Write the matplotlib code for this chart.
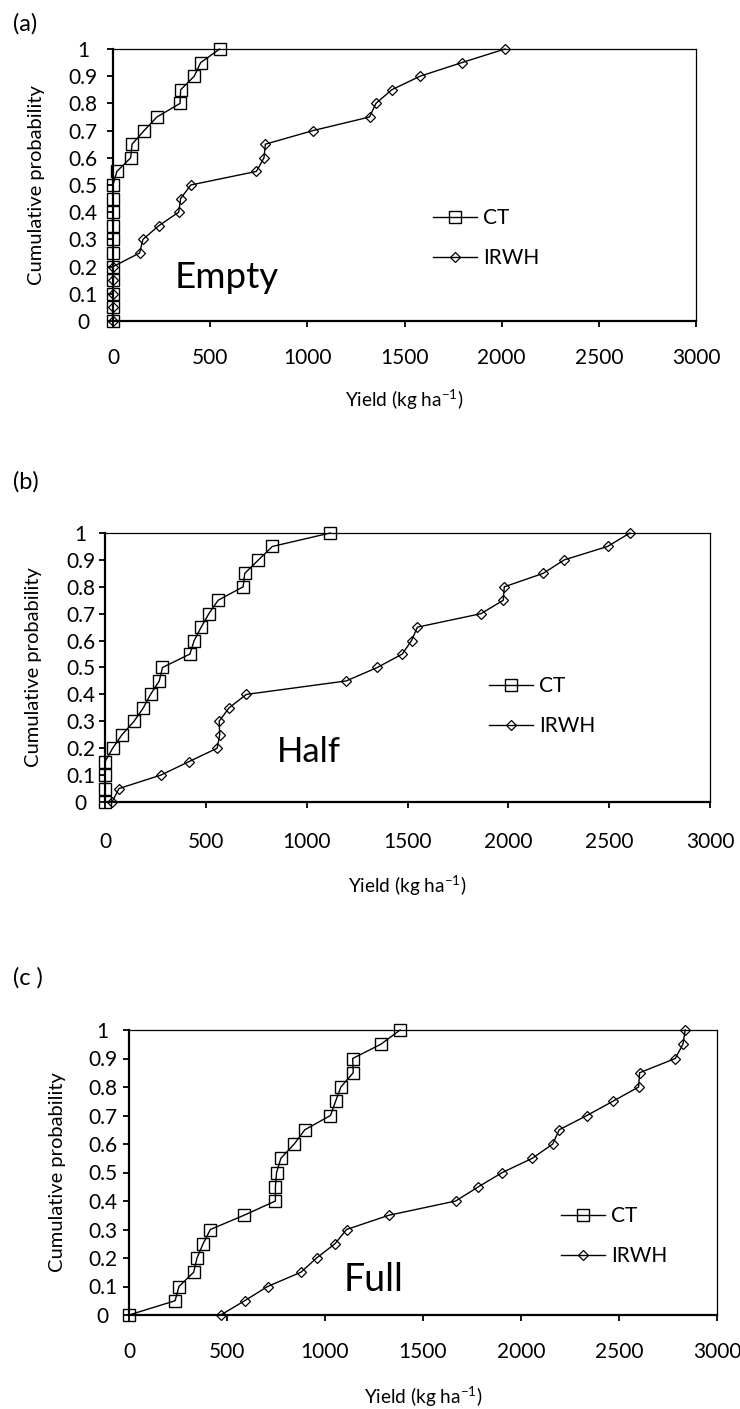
import numpy as np
import matplotlib
matplotlib.use('Agg')
import matplotlib.pyplot as plt

plt.rcParams['font.family'] = ['Lato', 'DejaVu Sans']
plt.rcParams['mathtext.fontset'] = 'custom'
plt.rcParams['mathtext.rm'] = 'Lato'

# cumulative probability levels (shared by every series)
prob = [0, 0.05, 0.10, 0.15, 0.20, 0.25, 0.30, 0.35, 0.40, 0.45, 0.50,
        0.55, 0.60, 0.65, 0.70, 0.75, 0.80, 0.85, 0.90, 0.95, 1.00]

# yields (kg/ha)
empty_ct = [0, 0, 0, 0, 0, 0, 0, 0, 0, 0, 0,
            20, 91, 98, 160, 226, 345, 348, 418, 451, 549]
empty_irwh = [0, 0, 0, 0, 0, 137, 154, 235, 338, 348, 400,
              738, 777, 784, 1029, 1320, 1353, 1434, 1580, 1795, 2017]

half_ct = [0, 0, 0, 0, 38, 84, 144, 190, 226, 269, 285,
           421, 442, 477, 515, 561, 685, 693, 761, 830, 1117]
half_irwh = [35, 69, 277, 416, 556, 569, 566, 615, 701, 1196, 1350,
             1474, 1520, 1549, 1864, 1975, 1980, 2173, 2277, 2492, 2603]

full_ct = [0, 235, 255, 330, 347, 378, 415, 587, 747, 747, 753,
           775, 843, 897, 1028, 1054, 1081, 1144, 1141, 1285, 1383]
full_irwh = [468, 590, 707, 877, 957, 1051, 1110, 1326, 1667, 1783, 1905,
             2058, 2162, 2195, 2336, 2469, 2600, 2605, 2787, 2826, 2838]

xticks = [0, 500, 1000, 1500, 2000, 2500, 3000]
yticks = [0, 0.1, 0.2, 0.3, 0.4, 0.5, 0.6, 0.7, 0.8, 0.9, 1.0]
ytick_labels = ['0', '0.1', '0.2', '0.3', '0.4', '0.5', '0.6', '0.7', '0.8', '0.9', '1']

W, H = 740, 1409
fig = plt.figure(figsize=(W / 100, H / 100), dpi=100)


def fx(x):
    return x / W


def fy(y):
    return 1 - y / H


# (tag, tag_y, axes box l,t,r,b in px, ct, irwh, name, name pos, legend pos, ylab x, xlab y, ypad, xpad, namesize)
panels = [
    ('(a)', 24, (113, 49, 696, 321), empty_ct, empty_irwh, 'Empty', (227, 278),
     (433, 238), 37, 400, 17, 22, 26.5),
    ('(b)', 482, (105, 533, 710, 802), half_ct, half_irwh, 'Half', (309, 752),
     (489, 706), 34, 886, 13, 24, 25),
    ('(c )', 978, (129, 1030, 717, 1315), full_ct, full_irwh, 'Full', (374, 1280),
     (561, 1236), 57, 1397, 14.5, 22, 27),
]

for (tag, tag_y, box, ct, irwh, name, name_xy, leg_xy,
     ylab_x, xlab_y, ypad, xpad, namesize) in panels:
    l, t, r, b = box
    ax = fig.add_axes([fx(l), fy(b), (r - l) / W, (b - t) / H])
    ax.plot(ct, prob, color='k', lw=1.0, marker='s', ms=8.5, mfc='none',
            mec='k', mew=1.0, label='CT', clip_on=False, zorder=3)
    ax.plot(irwh, prob, color='k', lw=1.0, marker='D', ms=5.5, mfc='none',
            mec='k', mew=0.9, label='IRWH', clip_on=False, zorder=3)
    ax.set_xlim(0, 3000)
    ax.set_ylim(0, 1)
    ax.set_xticks(xticks)
    ax.set_xticklabels([str(v) for v in xticks], va='center')
    ax.set_yticks(yticks)
    ax.set_yticklabels(ytick_labels, ha='center')
    for s in ['left', 'bottom']:
        ax.spines[s].set_linewidth(1.6)
    for s in ['top', 'right']:
        ax.spines[s].set_linewidth(0.9)
    ax.tick_params(direction='out', length=4.5, width=1.3, labelsize=15)
    ax.tick_params(axis='y', pad=ypad)
    ax.tick_params(axis='x', pad=xpad)

    ax.legend(loc='center left', bbox_to_anchor=(fx(leg_xy[0]), fy(leg_xy[1])),
              bbox_transform=fig.transFigure, frameon=False, fontsize=15,
              handlelength=2.1, handletextpad=0.3, labelspacing=0.95,
              borderpad=0, borderaxespad=0, numpoints=1)

    fig.text(fx(name_xy[0]), fy(name_xy[1]), name, fontsize=namesize,
             ha='center', va='center')
    fig.text(fx(13), fy(tag_y), tag, fontsize=17, ha='left', va='center')
    fig.text(fx(ylab_x), fy((t + b) / 2), 'Cumulative probability', fontsize=14.5,
             rotation=90, ha='center', va='center')
    fig.text(fx((l + r) / 2), fy(xlab_y), 'Yield (kg ha$^{\\rm{-1}}$)', fontsize=13.7,
             ha='center', va='center')

fig.savefig('out.png', dpi=100)
